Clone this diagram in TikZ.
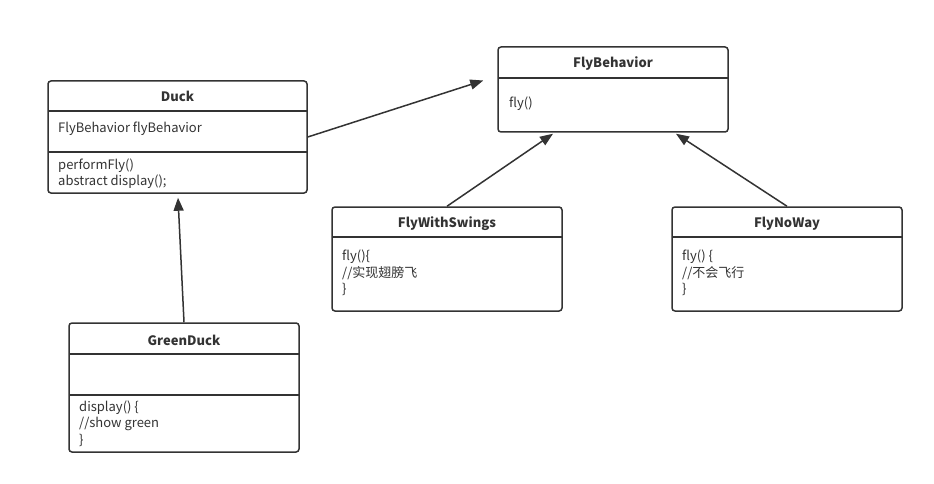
\documentclass[tikz,border=0pt]{standalone}
\usepackage{fontspec}
\setmainfont{Noto Sans CJK SC}
\usetikzlibrary{arrows.meta,calc}
\definecolor{ink}{HTML}{333333}
\begin{document}
\begin{tikzpicture}[x=1pt,y=-1pt,
  box/.style={draw=ink,line width=1.5pt,rounded corners=3pt,inner sep=0pt},
  divider/.style={draw=ink,line width=1.5pt},
  title/.style={text=ink,font=\fontsize{13}{15}\selectfont\bfseries,inner sep=0pt},
  txt/.style={text=ink,font=\fontsize{13}{16}\selectfont,anchor=west,inner sep=0pt},
  arr/.style={draw=ink,line width=1.5pt,-{Triangle[length=13pt,width=10pt]}}]
\useasboundingbox (0,0) rectangle (934,484);
\fill[white] (0,0) rectangle (934,484);

% Duck
\node[box,minimum width=259pt,minimum height=112pt] (duck) at (177.5,137) {};
\draw[divider] (48,111) -- (307,111);
\draw[divider] (48,152) -- (307,152);
\node[title] (duckt) at (177.5,96) {Duck};
\node[txt] (duck1) at (58,129) {FlyBehavior flyBehavior};
\node[txt] (duck2) at (58,166) {performFly()};
\node[txt] (duck3) at (58,182) {abstract display();};

% FlyBehavior
\node[box,minimum width=230pt,minimum height=85pt] (fb) at (613,89.5) {};
\draw[divider] (498,78) -- (728,78);
\node[title] (fbt) at (613,64) {FlyBehavior};
\node[txt] (fb1) at (509,104) {fly()};

% FlyWithSwings
\node[box,minimum width=230pt,minimum height=104pt] (fws) at (447,259) {};
\draw[divider] (332,237) -- (562,237);
\node[title] (fwst) at (447,224) {FlyWithSwings};
\node[txt] (fws1) at (342,257) {fly()\{};
\node[txt] (fws2) at (342,273) {//实现翅膀飞};
\node[txt] (fws3) at (342,289) {\}};

% FlyNoWay
\node[box,minimum width=230pt,minimum height=104pt] (fnw) at (787,259) {};
\draw[divider] (672,237) -- (902,237);
\node[title] (fnwt) at (787,224) {FlyNoWay};
\node[txt] (fnw1) at (682,257) {fly() \{};
\node[txt] (fnw2) at (682,273) {//不会飞行};
\node[txt] (fnw3) at (682,289) {\}};

% GreenDuck
\node[box,minimum width=230pt,minimum height=129pt] (gd) at (184,387.5) {};
\draw[divider] (69,354) -- (299,354);
\draw[divider] (69,395) -- (299,395);
\node[title] (gdt) at (184,340) {GreenDuck};
\node[txt] (gd1) at (79,408) {display() \{};
\node[txt] (gd2) at (79,424) {//show green};
\node[txt] (gd3) at (79,440) {\}};

% connectors
\draw[arr] (duck.east) -- ([xshift=-14pt,yshift=9pt]fb.west);
\draw[arr] (fws.north) -- ([xshift=-60pt,yshift=-1pt]fb.south);
\draw[arr] (fnw.north) -- ([xshift=63pt,yshift=-1pt]fb.south);
\draw[arr] (gd.north) -- ([xshift=0.5pt,yshift=-4pt]duck.south);
\end{tikzpicture}
\end{document}
